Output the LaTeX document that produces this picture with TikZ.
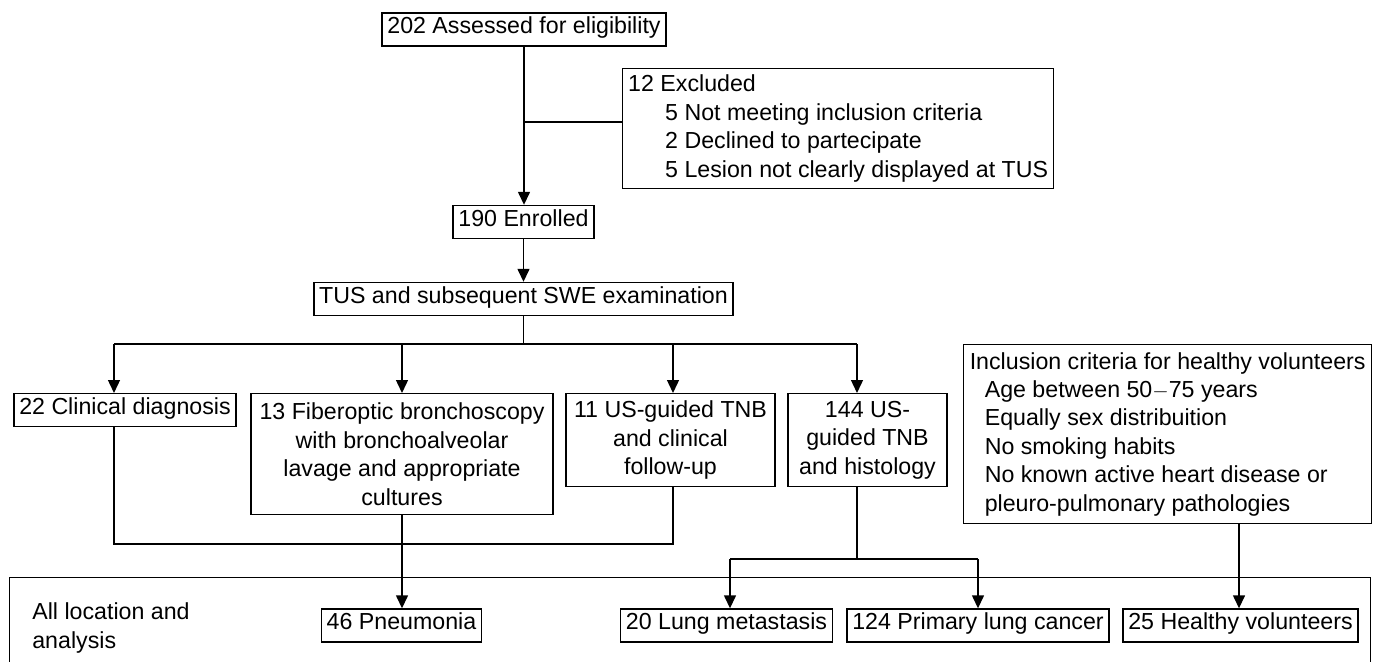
\documentclass[tikz,border=0pt]{standalone}
\usepackage{fontspec}
\setmainfont{Liberation Sans}
\usetikzlibrary{positioning}
\usetikzlibrary{calc}
\usetikzlibrary{arrows.meta}

\begin{document}
\begin{tikzpicture}[x=0.02cm, y=-0.02cm,
    every node/.style={font=\fontsize{13.2}{16.2}\selectfont},
    framed/.style={draw, line width=0.8pt},
    box/.style={framed, inner xsep=3pt, inner ysep=0pt, text height=0.72em, text depth=0.21em, minimum height=0.66cm},
    tallbox/.style={framed, inner xsep=3pt, align=center, anchor=north},
    listbox/.style={framed, inner xsep=2pt, align=left, anchor=north west},
    line/.style={draw, line width=0.8pt},
    arr/.style={line, -{Triangle[length=0.26cm, width=0.24cm]}}]
  \useasboundingbox (0,0) rectangle (1376,662);

  \node[box] (assess) at (524,29.5) {202 Assessed for eligibility};
  \node[listbox, minimum width=8.62cm, minimum height=2.4cm] (excl) at (622,68)
    {12 Excluded\\
     \hspace*{0.74cm}5 Not meeting inclusion criteria\\
     \hspace*{0.74cm}2 Declined to partecipate\\
     \hspace*{0.74cm}5 Lesion not clearly displayed at TUS};
  \node[box] (enrol) at (523.5,222) {190 Enrolled};
  \node[box] (tus) at (523.5,299) {TUS and subsequent SWE examination};

  \node[box, anchor=north] (clin) at (125,393) {22 Clinical diagnosis};
  \node[tallbox, minimum width=6.04cm, minimum height=2.42cm] (fibro) at (402,393)
    {13 Fiberoptic bronchoscopy\\with bronchoalveolar\\lavage and appropriate\\cultures};
  \node[tallbox, minimum width=4.18cm, minimum height=1.86cm] (fu) at (670.5,393)
    {11 US-guided TNB\\and clinical\\follow-up};
  \node[tallbox, minimum width=3.18cm, minimum height=1.86cm] (hist) at (867.5,393)
    {144 US-\\guided TNB\\and histology};
  \node[listbox, minimum width=8.16cm, minimum height=3.58cm] (incl) at (963,344)
    {Inclusion criteria for healthy volunteers\\
     \hspace*{0.3cm}Age between 50$-$75 years\\
     \hspace*{0.3cm}Equally sex distribuition\\
     \hspace*{0.3cm}No smoking habits\\
     \hspace*{0.3cm}No known active heart disease or\\
     \hspace*{0.3cm}pleuro-pulmonary pathologies};

  \node[framed, anchor=north west, minimum width=27.22cm, minimum height=2cm] (all) at (9,577) {};
  \node[anchor=west, align=left, inner sep=0pt] (alltext) at (32,628) {All location and\\analysis};
  \node[box] (pneu) at (401.5,625.5) {46 Pneumonia};
  \node[box] (meta) at (726.5,625.5) {20 Lung metastasis};
  \node[box] (prim) at (978,625.5) {124 Primary lung cancer};
  \node[box] (healthy) at (1240.5,625.5) {25 Healthy volunteers};

  \coordinate (exclin) at ($(excl.north west)+(0,54)$);
  \draw[arr] (assess.south) -- (assess.south |- enrol.north);
  \draw[line] (assess.south |- exclin) -- (exclin);
  \draw[arr] (enrol.south) -- (enrol.south |- tus.north);

  \coordinate (split) at (523.5,344);
  \coordinate (b1) at (114,344);
  \coordinate (b2) at (402,344);
  \coordinate (b3) at (673,344);
  \coordinate (b4) at (857,344);
  \draw[line] (tus.south) -- (split);
  \draw[line] (b1) -- (b4);
  \foreach \c/\n in {b1/clin, b2/fibro, b3/fu, b4/hist}
    \draw[arr] (\c) -- (\c |- \n.north);

  \coordinate (m1) at (114,544);
  \coordinate (m2) at (673,544);
  \draw[line] (m1 |- clin.south) -- (m1) -- (m2) -- (m2 |- fu.south);
  \draw[arr] (fibro.south) -- (fibro.south |- pneu.north);

  \coordinate (h0) at (857,559);
  \coordinate (h1) at (730,559);
  \coordinate (h2) at (978,559);
  \draw[line] (h0 |- hist.south) -- (h0);
  \draw[line] (h1) -- (h2);
  \draw[arr] (h1) -- (h1 |- meta.north);
  \draw[arr] (h2) -- (h2 |- prim.north);

  \coordinate (hv) at (1239,523);
  \draw[arr] (hv |- incl.south) -- (hv |- healthy.north);
\end{tikzpicture}
\end{document}
